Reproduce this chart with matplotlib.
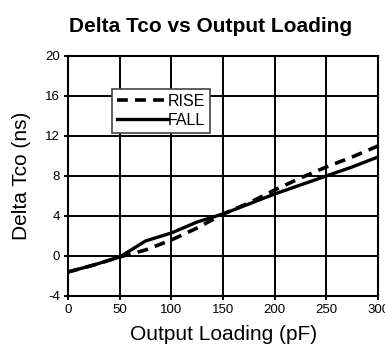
import matplotlib.pyplot as plt

plt.rcParams['font.family'] = ['Liberation Sans', 'DejaVu Sans']
plt.rcParams['axes.unicode_minus'] = False

# Output loading (pF)
loading = [0, 25, 50, 75, 100, 125, 150, 175, 200, 225, 250, 275, 300]
# Delta Tco (ns)
rise = [-1.6, -0.9, -0.1, 0.6, 1.6, 2.8, 4.2, 5.3, 6.6, 7.8, 8.9, 9.9, 11.0]
fall = [-1.6, -0.9, -0.1, 1.5, 2.3, 3.4, 4.2, 5.2, 6.2, 7.1, 8.0, 8.9, 9.9]

x_ticks = [0, 50, 100, 150, 200, 250, 300]
y_ticks = [-4, 0, 4, 8, 12, 16, 20]

fig = plt.figure(figsize=(3.85, 3.54), dpi=100)
ax = fig.add_axes([0.177, 0.164, 0.805, 0.678])

ax.plot(loading, rise, color='black', lw=2.6, ls=(0, (3, 2)), label='RISE')
ax.plot(loading, fall, color='black', lw=2.4, label='FALL')

ax.set_xlim(0, 300)
ax.set_ylim(-4, 20)
ax.set_xticks(x_ticks)
ax.set_yticks(y_ticks)
ax.grid(True, color='black', lw=1.4)
for s in ax.spines.values():
    s.set_linewidth(1.5)
ax.tick_params(labelsize=9.5, length=3, width=1.4, pad=3)

ax.set_title('Delta Tco vs Output Loading', fontsize=15, fontweight='bold',
             pad=17, x=0.46)
ax.set_xlabel('Output Loading (pF)', fontsize=15, labelpad=6)
ax.set_ylabel('Delta Tco (ns)', fontsize=15, labelpad=10)

leg = ax.legend(loc='upper left', bbox_to_anchor=(0.142, 0.8625), fontsize=11.5,
                frameon=True, fancybox=False, shadow=False, handlelength=3.2,
                handletextpad=0.0, borderpad=0.3, labelspacing=0.25,
                borderaxespad=0, framealpha=1)
leg.get_frame().set_edgecolor('#444444')
leg.get_frame().set_linewidth(1.2)

fig.savefig('out.png', dpi=100)
